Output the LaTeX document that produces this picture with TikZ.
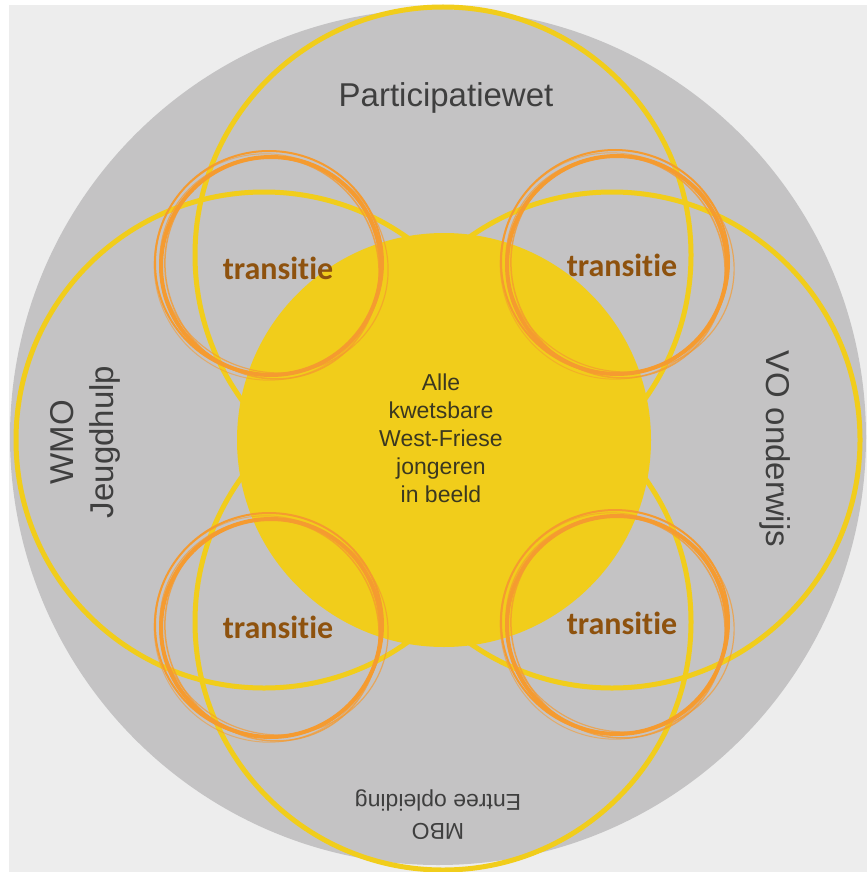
\documentclass[tikz,border=0pt]{standalone}
\usepackage{fontspec}
\setmainfont{Liberation Sans}
\newfontfamily\brushfont[Ligatures=NoCommon]{Carlito}
\usetikzlibrary{positioning}
\definecolor{backgray}{HTML}{EDEDED}
\definecolor{diskgray}{HTML}{C4C3C4}
\definecolor{sunyellow}{HTML}{F1CD1B}
\definecolor{brushorange}{HTML}{F59B30}
\definecolor{transbrown}{HTML}{8E520E}
\definecolor{lawgray}{HTML}{3F3F3F}
\definecolor{coretextcol}{HTML}{3B3820}
\tikzset{
  ring/.style={draw=sunyellow, line width=5pt},
  brush/.style={draw=brushorange, line width=2pt},
  lawtext/.style={text=lawgray, align=center, font=\fontsize{33}{40}\selectfont},
  transtext/.style={text=transbrown, font=\brushfont\bfseries\fontsize{32}{38}\selectfont},
}
\newcommand{\brushring}[1]{%
  \draw[brush, line width=4pt] (#1) ellipse [x radius=110pt, y radius=109pt];
  \draw[brush, line width=2pt] ([shift={(-2,-3)}]#1) ellipse [x radius=114pt, y radius=112pt];
  \draw[brush, line width=1.5pt, opacity=.8] ([shift={(1,2)}]#1) ellipse [x radius=106pt, y radius=112pt, rotate=25];
  \draw[brush, line width=1.2pt, opacity=.7] ([shift={(3,-1)}]#1) ellipse [x radius=115pt, y radius=107pt, rotate=-20];
  \draw[brush, line width=1pt, opacity=.6] ([shift={(-4,1)}]#1) ellipse [x radius=112pt, y radius=114pt, rotate=40];
}

\begin{document}
\begin{tikzpicture}[x=1pt,y=-1pt]
\useasboundingbox (0,0) rectangle (867,872);
\fill[white] (0,0) rectangle (867,872);
\fill[backgray] (9,5) rectangle (867,872);
\coordinate (mid) at (438,437);
\coordinate (n) at (443,255);
\coordinate (s) at (443,622);
\coordinate (w) at (264,440);
\coordinate (e) at (612,440);
\coordinate (c) at (444,440);
\coordinate (nw) at (271,266);
\coordinate (ne) at (617,265);
\coordinate (sw) at (271,628);
\coordinate (se) at (617,625);
% big disk and the four rings
\fill[diskgray] (mid) circle (428pt);
\draw[ring] (n) circle (248pt);
\draw[ring] (s) circle (248pt);
\draw[ring] (w) circle (248pt);
\draw[ring] (e) circle (248pt);
\fill[sunyellow] (c) circle (207pt);
% transitie rings
\brushring{nw}
\brushring{ne}
\brushring{sw}
\brushring{se}
\node[transtext] (t nw) at (278,268) {transitie};
\node[transtext] (t ne) at (622,265) {transitie};
\node[transtext] (t sw) at (278,627) {transitie};
\node[transtext] (t se) at (622,623) {transitie};
% labels
\node[lawtext] (part) at (446,98) {Participatiewet};
\node[lawtext, rotate=90] (wmo) at (85,442) {WMO\\Jeugdhulp};
\node[lawtext, rotate=-90] (vo) at (775,449) {VO onderwijs};
\node[lawtext, rotate=180, font=\fontsize{23}{29}\selectfont] (mbo) at (438,815) {MBO\\Entree opleiding};
\node[text=coretextcol, align=center, font=\fontsize{23}{28}\selectfont] (core) at (441,438) {Alle\\kwetsbare\\West-Friese\\jongeren\\in beeld};
\end{tikzpicture}
\end{document}
